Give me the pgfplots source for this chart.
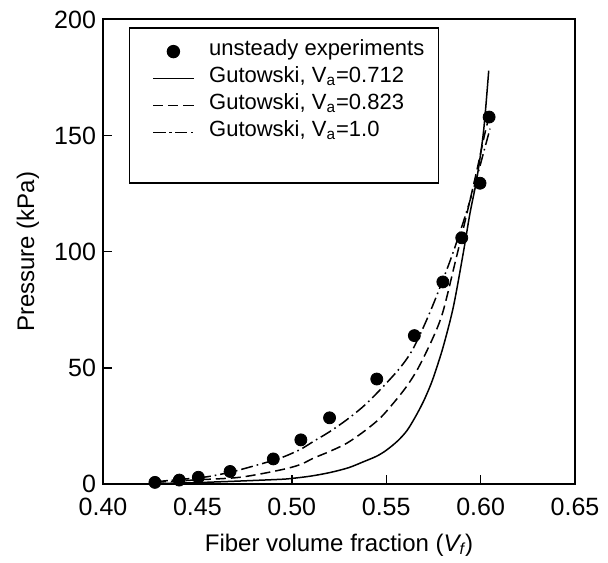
\documentclass[border=0pt]{standalone}
\usepackage{fontspec}
\setmainfont{Liberation Sans}
\usepackage{pgfplots}
\pgfplotsset{compat=1.18}
\begin{document}
\begin{tikzpicture}
\begin{axis}[
  name=ax,
  scale only axis,
  width=236pt, height=232.25pt,
  xmin=0.40, xmax=0.65, ymin=0, ymax=200,
  axis lines=box,
  axis background/.style={draw=black, line width=1pt},
  xtick={0.40,0.45,0.50,0.55,0.60,0.65},
  ytick={0,50,100,150,200},
  xtick pos=bottom, ytick pos=left, tick align=inside,
  major tick length=4.5pt,
  axis line style={line width=1pt, black},
  every tick/.style={line width=0.7pt, black},
  /pgf/number format/assume math mode=true,
  xticklabel style={/pgf/number format/fixed, /pgf/number format/fixed zerofill, /pgf/number format/precision=2, font=\fontsize{12.5}{14}\selectfont, yshift=-3.5pt},
  yticklabel style={font=\fontsize{12.5}{14}\selectfont},
  scaled x ticks=false,
  xlabel={Fiber volume fraction (\textit{V\textsubscript{f}})},
  ylabel={Pressure (kPa)},
  xlabel style={at={(axis description cs:0.5,0)}, anchor=center, yshift=-30.5pt, font=\fontsize{12}{14}\selectfont},
  ylabel style={at={(axis description cs:-0.159,0.5)}, anchor=center, font=\fontsize{12}{14}\selectfont},
  legend style={at={(rel axis cs:0.055,0.983)}, anchor=north west, draw=black, line width=0.7pt,
    font=\fontsize{11}{13}\selectfont, inner xsep=3.5pt, inner ysep=5pt,
    nodes={font=\fontsize{11}{13}\selectfont, text height=8.5pt, text depth=5pt, inner xsep=3.5pt, inner ysep=0pt}, row sep=0pt},
  legend cell align=left,
  legend image code/.code={\path (0pt,0pt) (32pt,0pt); \draw[mark repeat=2,mark phase=2,#1] plot coordinates {(8pt,0pt) (18pt,0pt) (28pt,0pt)};},
]
\addplot[only marks, mark=*, mark size=3pt, black] coordinates {
(0.4275,0.7) (0.4404,1.7) (0.4505,2.9) (0.4673,5.4) (0.4902,10.8) (0.5048,19)
(0.5200,28.5) (0.5450,45.2) (0.5649,63.9) (0.5800,87) (0.5900,106) (0.5997,129.5) (0.6045,158)
};
\addlegendentry{unsteady experiments}
\addplot[black, line width=0.75pt, smooth] coordinates {
(0.428,0.2) (0.44,0.4) (0.45,0.6) (0.46,0.9) (0.47,1.2) (0.4937,2.0) (0.50,2.4) (0.51,3.4) (0.52,4.9)
(0.530,7.0) (0.538,9.6) (0.545,12.0) (0.55,14.5) (0.556,18.5) (0.561,23) (0.5655,29) (0.5697,35.5) (0.5737,43)
(0.5767,50) (0.5805,60) (0.5856,76.4) (0.5908,99.4) (0.5944,116.7) (0.5979,131) (0.6010,148) (0.6025,160) (0.6043,178)
};
\addlegendentry{Gutowski, V\textsubscript{a}=0.712}
\addplot[black, line width=0.75pt, dash pattern=on 5pt off 2.5pt, smooth] coordinates {
(0.428,0.8) (0.44,1.3) (0.45,1.8) (0.4726,2.9) (0.4937,6.0) (0.5043,8.3) (0.5114,11.1) (0.520,14)
(0.529,17.5) (0.538,22.5) (0.5467,28.3) (0.554,35) (0.5608,42) (0.567,50) (0.5748,63) (0.5800,74)
(0.5864,95) (0.5926,116) (0.598,135) (0.6020,150) (0.6050,160)
};
\addlegendentry{Gutowski, V\textsubscript{a}=0.823}
\addplot[black, line width=0.75pt, dash pattern=on 6pt off 2pt on 0.8pt off 2pt, smooth] coordinates {
(0.428,1.0) (0.44,1.9) (0.455,3.1) (0.468,5.2) (0.48,7.8) (0.4937,11.1) (0.5043,14.8) (0.5114,18.3) (0.520,22.5)
(0.529,27.6) (0.538,33.5) (0.5467,40.5) (0.5573,50) (0.5644,58.5) (0.5732,74) (0.5838,96) (0.5917,115)
(0.598,132) (0.6020,144) (0.6050,153)
};
\addlegendentry{Gutowski, V\textsubscript{a}=1.0}
\addlegendimage{empty legend}
\addlegendentry{}
\end{axis}
\draw[line width=1pt, black] (ax.south east) -- (ax.north east) -- (ax.north west);
\path (ax.north east) ++(16.5pt,9.75pt) coordinate (tr);
\path (ax.south west) ++(-51.5pt,-39pt) coordinate (bl);
\useasboundingbox (bl) rectangle (tr);
\end{tikzpicture}
\end{document}
